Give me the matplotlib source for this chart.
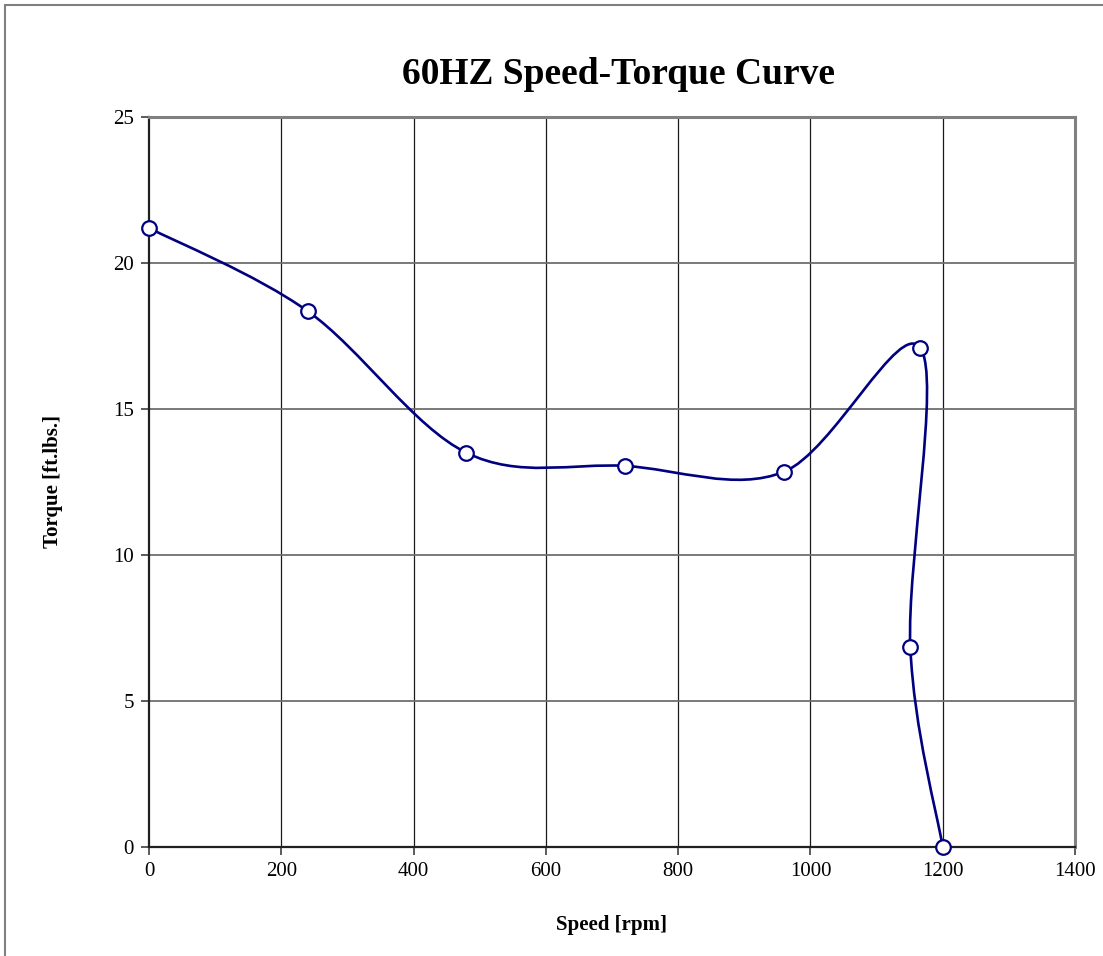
import matplotlib

matplotlib.use("Agg")
import matplotlib.pyplot as plt
from matplotlib.path import Path
from matplotlib.patches import PathPatch, Rectangle

# values
speed_rpm = [0, 240, 480, 720, 960, 1166, 1151, 1200]
torque_ftlbs = [21.2, 18.35, 13.5, 13.05, 12.85, 17.1, 6.85, 0.0]

x_ticks = [0, 200, 400, 600, 800, 1000, 1200, 1400]
y_ticks = [0, 5, 10, 15, 20, 25]

NAVY = "#000080"

plt.rcParams.update({
    "font.family": ["Liberation Serif", "DejaVu Serif"],
    "font.size": 15,
})

fig = plt.figure(figsize=(11.03, 9.56), dpi=100)
ax = fig.add_axes([149 / 1103, 1 - 847 / 956, 926 / 1103, 730 / 956])

# outer chart frame
fig.patches.append(Rectangle((5 / 1103, -0.01), 1.2, 1.01 - 5 / 956,
                             transform=fig.transFigure, fill=False,
                             edgecolor="#808080", lw=1.5))

ax.set_xlim(0, 1400)
ax.set_ylim(0, 25)
ax.set_xticks(x_ticks)
ax.set_yticks(y_ticks)

for xv in x_ticks[1:-1]:
    ax.axvline(xv, color="#1a1a1a", lw=0.9, zorder=1)
for yv in y_ticks[1:-1]:
    ax.axhline(yv, color="#6e6e6e", lw=1.3, zorder=1)

for side in ("top", "right"):
    ax.spines[side].set_color("#808080")
    ax.spines[side].set_linewidth(2.2)
for side in ("left", "bottom"):
    ax.spines[side].set_color("#202020")
    ax.spines[side].set_linewidth(1.6)

ax.tick_params(direction="out", length=6, width=1.2, color="#404040", pad=5,
               labelsize=15)

# Excel-style smoothed line: cubic Bezier through the points
pts = list(zip(speed_rpm, torque_ftlbs))
n = len(pts)
verts = [pts[0]]
codes = [Path.MOVETO]
for i in range(n - 1):
    p0 = pts[max(i - 1, 0)]
    p1 = pts[i]
    p2 = pts[i + 1]
    p3 = pts[min(i + 2, n - 1)]
    c1 = (p1[0] + (p2[0] - p0[0]) / 6, p1[1] + (p2[1] - p0[1]) / 6)
    c2 = (p2[0] - (p3[0] - p1[0]) / 6, p2[1] - (p3[1] - p1[1]) / 6)
    verts += [c1, c2, p2]
    codes += [Path.CURVE4] * 3
ax.add_patch(PathPatch(Path(verts, codes), facecolor="none", edgecolor=NAVY,
                       lw=1.9, zorder=3, clip_on=False))

ax.plot(speed_rpm, torque_ftlbs, ls="none", marker="o", ms=10.5,
        mfc="white", mec=NAVY, mew=1.6, zorder=4, clip_on=False)

ax.set_xlabel("Speed [rpm]", fontsize=15, fontweight="bold", labelpad=24)
ax.set_ylabel("Torque [ft.lbs.]", fontsize=15, fontweight="bold", labelpad=36)
fig.text(619 / 1103, 1 - 74 / 956, "60HZ Speed-Torque Curve", ha="center",
         va="center", fontsize=27, fontweight="bold")

fig.savefig("out.png", dpi=100)
